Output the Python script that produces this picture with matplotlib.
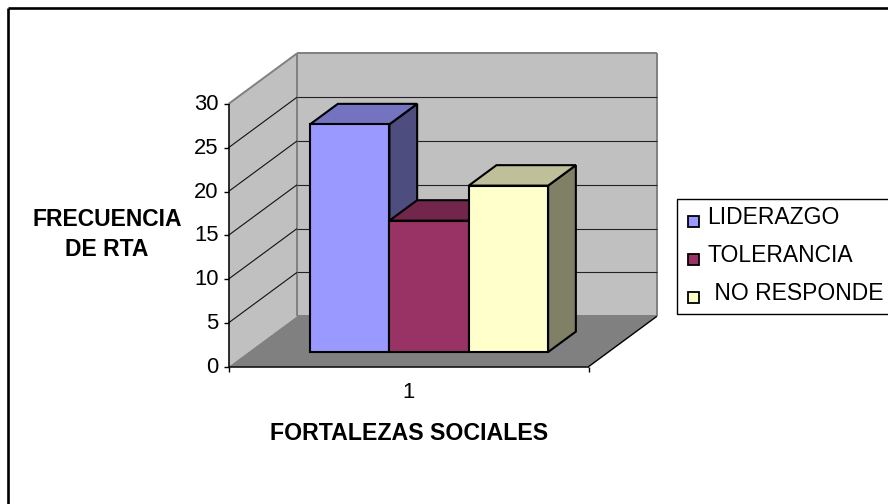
import matplotlib
matplotlib.use("Agg")
import matplotlib.pyplot as plt
from matplotlib.patches import Polygon, Rectangle

series_names = ["LIDERAZGO", "TOLERANCIA", " NO RESPONDE"]
series_values = [26, 15, 19]
front_colors = ["#9999FF", "#993366", "#FFFFCC"]
top_colors = ["#7373BF", "#73264C", "#BFBF99"]
side_colors = ["#4D4D80", "#4D1A33", "#808066"]
y_ticks = [0, 5, 10, 15, 20, 25, 30]
category_labels = ["1"]

W, H = 888, 504
plt.rcParams["font.family"] = ["Liberation Sans", "DejaVu Sans"]
fig = plt.figure(figsize=(W / 100, H / 100), dpi=100)
ax = fig.add_axes([0, 0, 1, 1])
ax.set_xlim(0, W)
ax.set_ylim(H, 0)
ax.axis("off")

X0, X1, Y0 = 228.5, 588.5, 366.7
UNIT = 8.76
DX, DY = 68.5, -50.5
YMAX = y_ticks[-1]


def pt(cat_frac, val, depth):
    return (X0 + (X1 - X0) * cat_frac + DX * depth, Y0 - UNIT * val + DY * depth)


def poly(points, fc, ec="none", lw=0.0, z=1):
    ax.add_patch(Polygon(points, closed=True, fc=fc, ec=ec, lw=lw, zorder=z, joinstyle="miter"))


def line(a, b, color="black", lw=1.0, z=2):
    ax.plot([a[0], b[0]], [a[1], b[1]], color=color, lw=lw, zorder=z, solid_capstyle="butt")


# Chart frame: only the top and left edges fall inside the picture
line((8, 8), (W, 8), lw=1.9, z=0)
line((8, 8), (8, H), lw=1.9, z=0)

# Walls and floor
WALL, EDGE = "#C0C0C0", "#808080"
poly([pt(0, 0, 1), pt(1, 0, 1), pt(1, YMAX, 1), pt(0, YMAX, 1)], WALL)
poly([pt(0, 0, 0), pt(0, 0, 1), pt(0, YMAX, 1), pt(0, YMAX, 0)], WALL)
poly([pt(0, 0, 0), pt(1, 0, 0), pt(1, 0, 1), pt(0, 0, 1)], EDGE)
for a, b in [
    (pt(0, YMAX, 0), pt(0, YMAX, 1)),
    (pt(0, YMAX, 1), pt(1, YMAX, 1)),
    (pt(1, YMAX, 1), pt(1, 0, 1)),
    (pt(0, 0, 1), pt(0, YMAX, 1)),
    (pt(0, 0, 1), pt(1, 0, 1)),
]:
    line(a, b, color=EDGE, lw=1.4, z=1.5)

# Gridlines
for v in y_ticks[1:-1]:
    line(pt(0, v, 0), pt(0, v, 1), lw=0.8, color="#111111")
    line(pt(0, v, 1), pt(1, v, 1), lw=0.8, color="#222222")

# Bars
D_FRONT, D_BACK = 0.29, 0.695
BAR0, BAR_W = 0.1714, 0.2204
BLK = dict(ec="black", lw=1.5, z=5)
for i, v in enumerate(series_values):
    a, b = BAR0 + i * BAR_W, BAR0 + (i + 1) * BAR_W
    poly([pt(b, 0, D_FRONT), pt(b, 0, D_BACK), pt(b, v, D_BACK), pt(b, v, D_FRONT)], side_colors[i], **BLK)
    poly([pt(a, v, D_FRONT), pt(b, v, D_FRONT), pt(b, v, D_BACK), pt(a, v, D_BACK)], top_colors[i], **BLK)
    poly([pt(a, 0, D_FRONT), pt(b, 0, D_FRONT), pt(b, v, D_FRONT), pt(a, v, D_FRONT)], front_colors[i], **BLK)

# Axes
line(pt(0, 0, 0), pt(1, 0, 0), lw=1.1, z=3)
line(pt(0, 0, 0), pt(0, YMAX, 0), lw=1.1, z=3)
line(pt(1, 0, 0), pt(1, 0, 1), lw=1.0, z=3)
line(pt(1, 0, 0), (X1, Y0 + 5), lw=1.0, z=3)
line((X0, Y0), (X0, Y0 + 5), lw=1.0, z=3)
for v in y_ticks:
    p = pt(0, v, 0)
    line((p[0] - 5, p[1]), p, lw=1.0, z=3)
    ax.text(p[0] - 10, p[1] + 0.5, str(v), ha="right", va="center", fontsize=15.8, color="black")

ax.text((X0 + X1) / 2 - 0.5, 392, category_labels[0], ha="center", va="center", fontsize=15.8)
ax.text(409, 433, "FORTALEZAS SOCIALES", ha="center", va="center", fontsize=16.7, fontweight="bold")
ax.text(107, 219, "FRECUENCIA", ha="center", va="center", fontsize=16.5, fontweight="bold")
ax.text(107, 250, "DE RTA", ha="center", va="center", fontsize=16.5, fontweight="bold")

# Legend
ax.add_patch(Rectangle((677, 199), W + 20 - 677, 114.5, fc="white", ec="black", lw=1.0, zorder=4))
for i, name in enumerate(series_names):
    y = 221 + i * 38
    ax.add_patch(Rectangle((687.5, y - 5.5), 11, 11, fc=front_colors[i], ec="black", lw=1.3, zorder=5))
    ax.text(707.5, y - 3, name, ha="left", va="center", fontsize=16.5, zorder=5)

fig.savefig("out.png", dpi=100)
